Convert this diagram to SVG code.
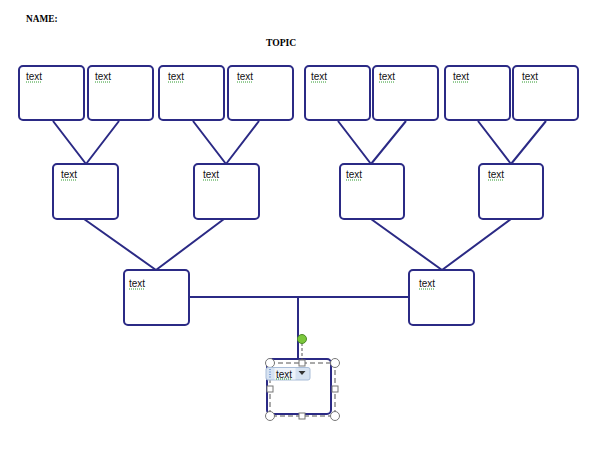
<svg xmlns="http://www.w3.org/2000/svg" width="613" height="465" viewBox="0 0 613 465">
<style>
.box{fill:#fff;stroke:#2B2A85;stroke-width:2}
.con{stroke:#2B2A85;stroke-width:2;fill:none}
.lbl{font-family:"Liberation Sans",Arial,sans-serif;font-size:10px;fill:#111}
.sq{stroke:#2E9A2E;stroke-width:1;stroke-dasharray:1 1}
.hd{font-family:"Liberation Serif","Times New Roman",serif;font-weight:bold;fill:#000}
.h{fill:#fff;stroke:#777;stroke-width:1}
</style>
<rect width="613" height="465" fill="#fff"/>
<text class="hd" x="26" y="22" font-size="9.3">NAME:</text>
<text class="hd" x="266" y="45.5" font-size="9.6">TOPIC</text>
<g id="connectors">
<path class="con" d="M53,121L86,164M119,121L86,164M193,121L226,164M259,121L226,164M338,121L371,164M406,121L371,164M478,121L511,164M546,121L511,164M84,219L156,270M224,219L156,270M371,219L442,270M511,219L442,270M189,297H409M298,297V359"/>
</g>
<g id="t1"><rect class="box" x="19" y="66" width="65" height="54" rx="4"/><text class="lbl" x="26" y="80">text</text><line class="sq" x1="26" y1="82" x2="42" y2="82"/></g>
<g id="t2"><rect class="box" x="88" y="66" width="65" height="54" rx="4"/><text class="lbl" x="95" y="80">text</text><line class="sq" x1="95" y1="82" x2="111" y2="82"/></g>
<g id="t3"><rect class="box" x="159" y="66" width="65" height="54" rx="4"/><text class="lbl" x="168" y="80">text</text><line class="sq" x1="168" y1="82" x2="184" y2="82"/></g>
<g id="t4"><rect class="box" x="228" y="66" width="65" height="54" rx="4"/><text class="lbl" x="237" y="80">text</text><line class="sq" x1="237" y1="82" x2="253" y2="82"/></g>
<g id="t5"><rect class="box" x="305" y="66" width="65" height="54" rx="4"/><text class="lbl" x="311" y="80">text</text><line class="sq" x1="311" y1="82" x2="327" y2="82"/></g>
<g id="t6"><rect class="box" x="373" y="66" width="65" height="54" rx="4"/><text class="lbl" x="379" y="80">text</text><line class="sq" x1="379" y1="82" x2="395" y2="82"/></g>
<g id="t7"><rect class="box" x="445" y="66" width="65" height="54" rx="4"/><text class="lbl" x="453" y="80">text</text><line class="sq" x1="453" y1="82" x2="469" y2="82"/></g>
<g id="t8"><rect class="box" x="513" y="66" width="65" height="54" rx="4"/><text class="lbl" x="522" y="80">text</text><line class="sq" x1="522" y1="82" x2="538" y2="82"/></g>
<g id="m1"><rect class="box" x="53" y="164" width="65" height="55" rx="4"/><text class="lbl" x="61" y="178">text</text><line class="sq" x1="61" y1="180" x2="77" y2="180"/></g>
<g id="m2"><rect class="box" x="194" y="164" width="65" height="55" rx="4"/><text class="lbl" x="203" y="178">text</text><line class="sq" x1="203" y1="180" x2="219" y2="180"/></g>
<g id="m3"><rect class="box" x="340" y="164" width="64" height="55" rx="4"/><text class="lbl" x="346" y="178">text</text><line class="sq" x1="346" y1="180" x2="362" y2="180"/></g>
<g id="m4"><rect class="box" x="479" y="164" width="64" height="55" rx="4"/><text class="lbl" x="488" y="178">text</text><line class="sq" x1="488" y1="180" x2="504" y2="180"/></g>
<g id="b1"><rect class="box" x="124" y="270" width="65" height="55" rx="4"/><text class="lbl" x="129" y="287">text</text><line class="sq" x1="129" y1="289" x2="145" y2="289"/></g>
<g id="b2"><rect class="box" x="409" y="270" width="65" height="55" rx="4"/><text class="lbl" x="419" y="287">text</text><line class="sq" x1="419" y1="289" x2="435" y2="289"/></g>
<g id="root">
<rect class="box" x="267" y="359" width="64" height="55" rx="4"/>
<rect x="270" y="363" width="65" height="53" fill="none" stroke="#555" stroke-width="1" stroke-dasharray="5 3"/>
<line x1="302" y1="343" x2="302" y2="360" stroke="#555" stroke-width="1" stroke-dasharray="3 2"/>
<circle cx="302" cy="339" r="4.5" fill="#7CC83C" stroke="#4E8A2A" stroke-width="1"/>
<circle class="h" cx="270" cy="363" r="4.5"/>
<circle class="h" cx="335" cy="363" r="4.5"/>
<circle class="h" cx="270" cy="416" r="4.5"/>
<circle class="h" cx="335" cy="416" r="4.5"/>
<rect class="h" x="299" y="360" width="6" height="6"/>
<rect class="h" x="267" y="386" width="6" height="6"/>
<rect class="h" x="332" y="386" width="6" height="6"/>
<rect class="h" x="299" y="413" width="6" height="6"/>
<rect x="266" y="367.5" width="44" height="12.5" rx="2" fill="#D6E2F1" stroke="#A9BDD8" stroke-width="1"/>
<rect x="274.5" y="368" width="21" height="11.5" fill="#EEF3FA"/>
<line x1="270" y1="369" x2="270" y2="379" stroke="#4A78C8" stroke-width="1.2" stroke-dasharray="1 1.5"/>
<text class="lbl" x="276" y="377.5">text</text>
<line class="sq" x1="276" y1="379" x2="292" y2="379"/>
<path d="M298.5,371L305.5,371L302,375Z" fill="#333"/>
</g>
</svg>
